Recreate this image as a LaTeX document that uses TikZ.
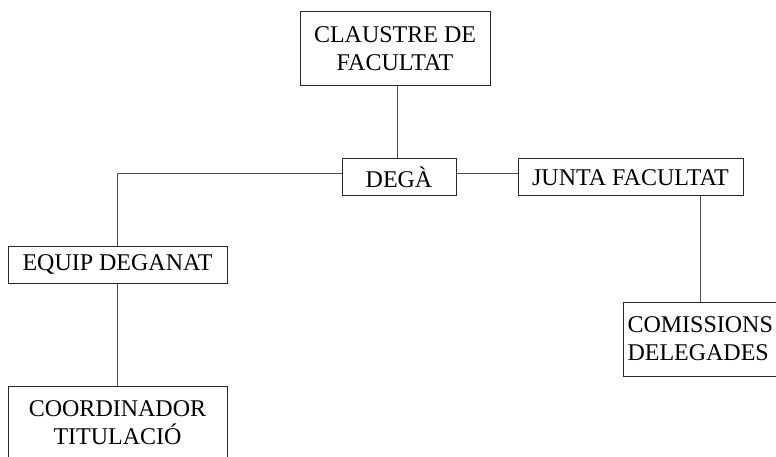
\documentclass[tikz,border=0pt]{standalone}
\usepackage{fontspec}
\setmainfont{Liberation Serif}
\begin{document}
\begin{tikzpicture}[x=1pt,y=-1pt,
  box/.style={draw=black!85,line width=1pt,fill=white,inner sep=0pt,align=center,font=\fontsize{24}{28}\selectfont},
  link/.style={draw=black!70,line width=1pt}]
\useasboundingbox (0,0) rectangle (776,457);
\clip (0,0) rectangle (776,457);
\node[box,minimum width=190,minimum height=74] (claustre) at (395,49) {CLAUSTRE DE\\FACULTAT};
\node[box,minimum width=114,minimum height=37] (dega) at (399,177.5) {DEGÀ};
\node[box,minimum width=225,minimum height=37] (junta) at (630.5,177.5) {JUNTA FACULTAT};
\node[box,minimum width=219,minimum height=37] (equip) at (117.5,264.5) {EQUIP DEGANAT};
\node[box,minimum width=219,minimum height=74] (coord) at (117.5,423) {COORDINADOR\\TITULACIÓ};
\node[box,minimum width=160,minimum height=74,text width=155,align=left] (comis) at (703,339) {\hspace*{2pt}COMISSIONS\\\hspace*{2pt}DELEGADES};
\coordinate (c1) at (117,173.5);
\draw[link] (claustre.south -| 397,0) -- (dega.north -| 397,0);
\draw[link] (dega.west |- 0,173.5) -- (c1) -- (equip.north -| c1);
\draw[link] (dega.east |- 0,173.5) -- (junta.west |- 0,173.5);
\draw[link] (equip.south -| c1) -- (coord.north -| c1);
\draw[link] (junta.south -| 700,0) -- (comis.north -| 700,0);
\end{tikzpicture}
\end{document}
